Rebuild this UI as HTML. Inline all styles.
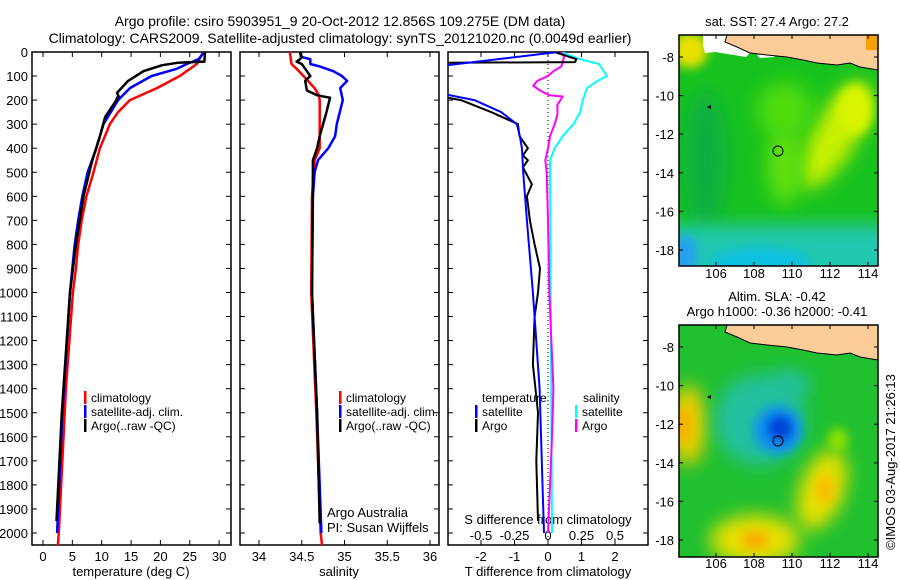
<!DOCTYPE html>
<html><head><meta charset="utf-8"><style>
html,body{margin:0;padding:0;background:#fff;}
svg{display:block;font-family:"Liberation Sans",sans-serif;}
text{fill:#000;}
</style></head><body>
<svg id="chart" width="900" height="580" viewBox="0 0 900 580">
<defs>
<clipPath id="c1"><rect x="32" y="52" width="199" height="493"/></clipPath>
<clipPath id="c2"><rect x="240" y="52" width="199" height="493"/></clipPath>
<clipPath id="c3"><rect x="448" y="52" width="200" height="493"/></clipPath>
<clipPath id="m1"><rect x="679" y="35" width="199" height="231"/></clipPath>
<clipPath id="m2"><rect x="679" y="325" width="199" height="232"/></clipPath>
<filter id="bl" x="-50%" y="-50%" width="200%" height="200%"><feGaussianBlur stdDeviation="9"/></filter>
<filter id="bl2" x="-50%" y="-50%" width="200%" height="200%"><feGaussianBlur stdDeviation="5"/></filter>
</defs>
<text x="340" y="26" font-size="14" text-anchor="middle">Argo profile: csiro 5903951_9 20-Oct-2012 12.856S 109.275E (DM data)</text>
<text x="340" y="43" font-size="14" text-anchor="middle">Climatology: CARS2009. Satellite-adjusted climatology: synTS_20121020.nc (0.0049d earlier)</text>

<g clip-path="url(#m1)">
<rect x="679" y="35" width="199" height="231" fill="#18c21e"/>
<ellipse cx="690" cy="50" rx="18" ry="18" fill="#e8e000" filter="url(#bl2)"/>
<ellipse cx="835" cy="135" rx="22" ry="60" fill="#c8f000" filter="url(#bl)" transform="rotate(30 835 135)"/>
<ellipse cx="855" cy="110" rx="18" ry="25" fill="#d8f400" filter="url(#bl2)"/>
<ellipse cx="785" cy="165" rx="18" ry="40" fill="#60e010" filter="url(#bl)"/>
<ellipse cx="785" cy="110" rx="28" ry="28" fill="#50dc10" filter="url(#bl)"/>
<ellipse cx="705" cy="160" rx="22" ry="70" fill="#10b040" filter="url(#bl)"/>
<rect x="660" y="225" width="240" height="60" fill="#20c8b0" filter="url(#bl)"/>
<ellipse cx="760" cy="262" rx="50" ry="14" fill="#10c0e0" filter="url(#bl2)"/>
<ellipse cx="685" cy="255" rx="12" ry="20" fill="#20a0f0" filter="url(#bl2)"/>
<polygon points="703,35 727,35 725,42 737,47 750,53 746,57 715,52 705,53 703,45" fill="#fff"/>
<polygon points="757,55 770,52 775,57 760,58" fill="#fff"/>
<polygon points="727,35 878,35 878,70 860,67 850,63 837,65 817,63 803,60 787,57 767,55 750,53 737,47 725,42" fill="#fccc98" stroke="#000" stroke-width="1"/>
<rect x="866" y="35" width="12" height="15" fill="#f5a000"/>
<circle cx="778" cy="151" r="5" fill="none" stroke="#000" stroke-width="1"/>
<polygon points="707,107 711,105 711,109" fill="#000"/>
</g>
<rect x="679" y="35" width="199" height="231" fill="none" stroke="#000" stroke-width="1.5"/>
<text x="777" y="26" font-size="13" text-anchor="middle">sat. SST: 27.4  Argo: 27.2</text>

<g clip-path="url(#m2)">
<rect x="679" y="325" width="199" height="232" fill="#20c030"/>
<ellipse cx="688" cy="425" rx="18" ry="40" fill="#f0d000" filter="url(#bl)"/>
<ellipse cx="684" cy="425" rx="8" ry="18" fill="#f8b000" filter="url(#bl2)"/>
<ellipse cx="755" cy="540" rx="45" ry="25" fill="#e8e000" filter="url(#bl)"/>
<ellipse cx="755" cy="540" rx="14" ry="10" fill="#f8b000" filter="url(#bl2)"/>
<ellipse cx="822" cy="490" rx="22" ry="42" fill="#e8e000" filter="url(#bl)" transform="rotate(20 822 490)"/>
<ellipse cx="825" cy="490" rx="10" ry="15" fill="#f8c000" filter="url(#bl2)"/>
<ellipse cx="838" cy="440" rx="10" ry="12" fill="#90e000" filter="url(#bl2)"/>
<ellipse cx="760" cy="420" rx="45" ry="45" fill="#20c0a0" filter="url(#bl)"/>
<ellipse cx="790" cy="385" rx="20" ry="15" fill="#20c0a0" filter="url(#bl)"/>
<ellipse cx="778" cy="430" rx="24" ry="24" fill="#1090f0" filter="url(#bl2)"/>
<ellipse cx="780" cy="428" rx="12" ry="12" fill="#0040d8" filter="url(#bl2)"/>
<polygon points="727,325 878,325 878,360 860,357 850,353 837,355 817,353 803,350 787,347 767,345 750,343 737,337 725,332" fill="#fccc98" stroke="#000" stroke-width="1"/>
<circle cx="778" cy="441" r="5" fill="none" stroke="#000" stroke-width="1"/>
<polygon points="707,397 711,395 711,399" fill="#000"/>
</g>
<rect x="679" y="325" width="199" height="232" fill="none" stroke="#000" stroke-width="1.5"/>
<text x="777" y="301" font-size="13" text-anchor="middle">Altim. SLA: -0.42</text>
<text x="777" y="316" font-size="13" text-anchor="middle">Argo h1000: -0.36 h2000: -0.41</text>
<text transform="translate(895,462) rotate(-90)" font-size="13" text-anchor="middle">©IMOS 03-Aug-2017 21:26:13</text>
<g id="axes"></g>
<g id="marks"></g>
</svg>
<script>
// ===== data =====
const depthTicks=[0,100,200,300,400,500,600,700,800,900,1000,1100,1200,1300,1400,1500,1600,1700,1800,1900,2000];
const tempTicks=[0,5,10,15,20,25,30];
const salTicks=[34,34.5,35,35.5,36];
const tdiffTicks=[-2,-1,0,1,2];
const sdiffTicks=[-0.5,-0.25,0,0.25,0.5];
const sdiffTickLabels=["-0.5","-0.25","0","0.25","0.5"];
const lonTicks=[106,108,110,112,114];
const latTicks=[-8,-10,-12,-14,-16,-18];

const climTempDepth=[0,50,100,150,200,250,300,400,500,600,700,800,900,1000,1400,2000,2060];
const climTemp=[27.3,26.2,23.3,19.4,14.8,12.8,11.4,9.7,8.6,7.4,6.6,6.0,5.6,5.1,3.9,2.7,2.5];
const satTempDepth=[0,30,50,70,100,150,200,300,400,500,600,700,800,900,1000,1500,2000];
const satTemp=[27.5,26.5,24.5,22.8,18.5,14.8,12.8,10.3,9.1,7.6,6.7,6.0,5.4,5.0,4.6,3.3,2.4];
const argoTempDepth=[0,40,45,55,80,120,170,185,190,200,270,350,450,600,800,1000,1500,1950];
const argoTemp=[27.6,27.5,22.9,20.3,17.1,14.5,12.6,12.9,12.6,12.5,10.6,9.7,8.4,6.9,5.6,4.6,3.2,2.3];

const climSalDepth=[0,50,70,100,150,180,200,400,450,600,1000,1500,2000,2060];
const climSal=[34.36,34.38,34.44,34.52,34.65,34.70,34.71,34.71,34.65,34.62,34.61,34.67,34.72,34.74];
const satSalDepth=[0,20,30,50,60,80,100,120,150,200,300,350,400,450,500,600,1000,1500,2000];
const satSal=[34.48,34.49,34.6,34.6,34.71,34.87,34.97,35.03,34.95,34.98,34.91,34.89,34.81,34.69,34.65,34.63,34.62,34.68,34.73];
const argoSalDepth=[0,20,30,40,50,80,100,120,160,180,190,250,350,400,450,500,1000,1500,1960];
const argoSal=[34.48,34.50,34.48,34.44,34.50,34.56,34.60,34.54,34.56,34.68,34.83,34.79,34.71,34.68,34.63,34.63,34.62,34.68,34.71];

const satTdiffDepth=[0,60,178,200,250,300,350,400,500,700,1000,1400,2000];
const satTdiff=[0.3,-3.3,-3.0,-2.2,-1.4,-0.93,-0.84,-0.78,-0.74,-0.63,-0.45,-0.25,-0.12];
const argoTdiffDepth=[0,30,42,45,190,200,250,300,350,400,430,450,480,550,600,700,800,900,1000,1100,1300,1500,1700,1950];
const argoTdiff=[0.2,0.85,0.8,-3.3,-3.0,-2.6,-1.7,-0.9,-0.85,-0.6,-0.75,-0.6,-0.75,-0.48,-0.63,-0.54,-0.4,-0.24,-0.3,-0.4,-0.45,-0.3,-0.35,-0.3];
const satSdiffDepth=[0,20,30,50,100,120,150,200,250,300,350,400,450,500,1000,2000];
const satSdiff=[0.1,0.19,0.24,0.38,0.44,0.37,0.29,0.26,0.24,0.19,0.11,0.05,0.015,0.015,0.02,0.03];
const argoSdiffDepth=[0,20,40,60,80,100,120,140,160,180,185,220,260,300,350,400,450,500,700,1000,1400,1600,2000];
const argoSdiff=[0.1,0.12,0.11,0.1,0.04,0.0,-0.08,-0.11,-0.06,0.01,0.11,0.07,0.07,0.05,0.015,0.0,-0.02,-0.01,0.0,0.01,0.04,0.03,0.0];

// ===== scales =====
const yD=d=>52+d*0.2405;
const xT=t=>43+t*5.87;
const xS=s=>259+(s-34)*85.5;
const xdT=t=>548+t*33.5;
const xdS=s=>548+s*134;
const lonX=l=>716+(l-106)*19;
const lat1Y=l=>57+(-8-l)*19.3;
const lat2Y=l=>347+(-8-l)*19.3;

const NS='http://www.w3.org/2000/svg';
const axes=document.getElementById('axes');
const marks=document.getElementById('marks');
function mk(tag,attrs,parent){const e=document.createElementNS(NS,tag);for(const k in attrs)e.setAttribute(k,attrs[k]);(parent||axes).appendChild(e);return e;}
function txt(x,y,s,anchor,size,parent){const e=mk('text',{x:x,y:y,'font-size':size||13,'text-anchor':anchor||'middle'},parent);e.textContent=s;return e;}

const frames=[[32,'temperature-panel'],[240,'salinity-panel'],[448,'difference-panel']];
frames.forEach(([x,n])=>{
  const r=mk('rect',{x:x,y:52,width:(x===448?200:199),height:493,fill:'none',stroke:'#000','stroke-width':1.5});
  
  
  depthTicks.forEach(d=>{
    const w=(x===448?200:199);
    mk('line',{x1:x,x2:x+5,y1:yD(d),y2:yD(d),stroke:'#000'});
    mk('line',{x1:x+w-5,x2:x+w,y1:yD(d),y2:yD(d),stroke:'#000'});
  });
});
depthTicks.forEach(d=>{
  const t=txt(28,yD(d)+5,String(d),'end');
  
  
});
function xticks(ticks,fx,labels){
  ticks.forEach((v,i)=>{
    const x=fx(v);
    mk('line',{x1:x,x2:x,y1:52,y2:57,stroke:'#000'});
    mk('line',{x1:x,x2:x,y1:540,y2:545,stroke:'#000'});
    const t=txt(x,561,labels?labels[i]:String(v));
    
    
  });
}
xticks(tempTicks,xT);
xticks(salTicks,xS);
xticks(tdiffTicks,xdT);
sdiffTicks.forEach((v,i)=>{
  const t=txt(xdS(v),540,sdiffTickLabels[i]);
  
  
});
let t;
t=txt(131,576,'temperature (deg C)');
t=txt(339,576,'salinity');
t=txt(548,576,'T difference from climatology');
t=txt(548,524,'S difference from climatology');
t=txt(327,517,'Argo Australia','start');
t=txt(327,532,'PI: Susan Wijffels','start');

const z=mk('line',{x1:548,x2:548,y1:52,y2:545,stroke:'#000','stroke-dasharray':'1,3'},marks);



function line(depths,vals,fx,color,w,clip,name){
  const d=depths.map((dd,i)=>(i?'L':'M')+fx(vals[i]).toFixed(1)+','+yD(dd).toFixed(1)).join('');
  const p=mk('path',{d:d,fill:'none',stroke:color,'stroke-width':w,'clip-path':'url(#'+clip+')','stroke-linejoin':'round'},marks);
  
  
}
line(climTempDepth,climTemp,xT,'#f00',2.5,'c1','temp-climatology-line');
line(satTempDepth,satTemp,xT,'#00f',2.5,'c1','temp-satellite-line');
line(argoTempDepth,argoTemp,xT,'#000',2.5,'c1','temp-argo-line');
line(climSalDepth,climSal,xS,'#f00',2.5,'c2','sal-climatology-line');
line(satSalDepth,satSal,xS,'#00f',2.5,'c2','sal-satellite-line');
line(argoSalDepth,argoSal,xS,'#000',2.5,'c2','sal-argo-line');
line(satSdiffDepth,satSdiff,xdS,'#0ff',2,'c3','s-diff-satellite-line');
line(argoSdiffDepth,argoSdiff,xdS,'#f0f',2,'c3','s-diff-argo-line');
line(argoTdiffDepth,argoTdiff,xdT,'#000',2,'c3','t-diff-argo-line');
line(satTdiffDepth,satTdiff,xdT,'#00f',2,'c3','t-diff-satellite-line');

function leg(x,y,color,label,name){
  const r=mk('rect',{x:x,y:y-11,width:2.5,height:13,fill:color},marks);
  
  
  const tt=txt(x+7,y,label,'start',12,marks);
  
  
}
leg(84,402,'#f00','climatology','legend-temp-climatology');
leg(84,416,'#00f','satellite-adj. clim.','legend-temp-satellite');
leg(84,430,'#000','Argo(..raw -QC)','legend-temp-argo');
leg(339,402,'#f00','climatology','legend-sal-climatology');
leg(339,416,'#00f','satellite-adj. clim.','legend-sal-satellite');
leg(339,430,'#000','Argo(..raw -QC)','legend-sal-argo');
t=txt(482,402,'temperature','start',12,marks);
t=txt(583,402,'salinity','start',12,marks);
leg(475,416,'#00f','satellite','legend-tdiff-satellite');
leg(475,430,'#000','Argo','legend-tdiff-argo');
leg(575,416,'#0ff','satellite','legend-sdiff-satellite');
leg(575,430,'#f0f','Argo','legend-sdiff-argo');

[[lat1Y,35,266,278],[lat2Y,325,557,568]].forEach(([fy,top,bot,ly],mi)=>{
  lonTicks.forEach(l=>{
    const x=lonX(l);
    mk('line',{x1:x,x2:x,y1:top,y2:top+4,stroke:'#000'});
    mk('line',{x1:x,x2:x,y1:bot-4,y2:bot,stroke:'#000'});
    const e=txt(x,ly,String(l),'middle',13);
    
    
  });
  latTicks.forEach(l=>{
    const y=fy(l);
    mk('line',{x1:679,x2:683,y1:y,y2:y,stroke:'#000'});
    mk('line',{x1:874,x2:878,y1:y,y2:y,stroke:'#000'});
    const e=txt(674,y+5,String(l),'end',13);
    
    
  });
});
</script>
</body></html>
